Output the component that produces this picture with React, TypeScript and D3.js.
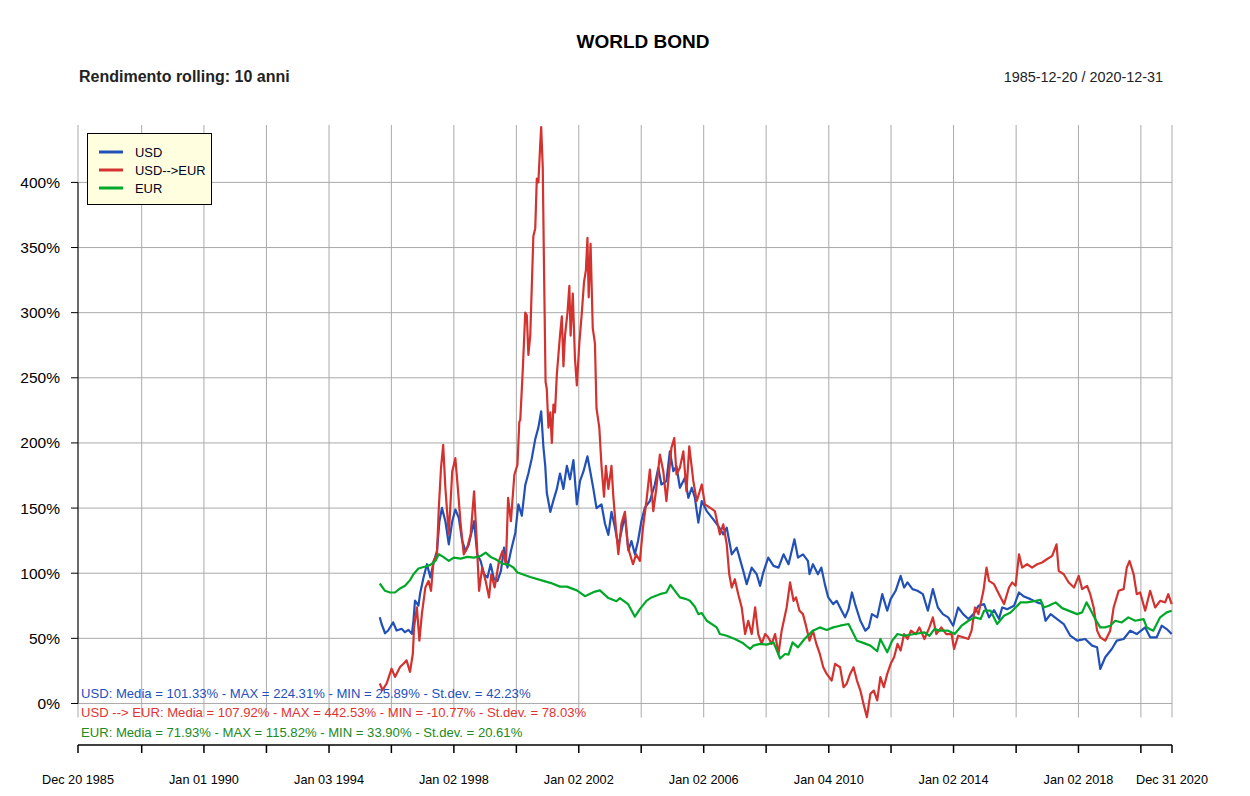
import React from "react";
import * as d3 from "d3";

// ---------- data (decimal year, % rolling 10y return) ----------
const usd: [number, number][] = [
  [1995.63,66.2],[1995.69,61],[1995.80,53.9],[1995.90,56.0],[1996.06,62.3],[1996.17,56.0],[1996.33,57.3],[1996.44,54.7],[1996.55,56.5],[1996.66,53.4],[1996.71,63.6],[1996.76,78.9],[1996.87,75.1],[1996.92,84.0],[1997.03,96.7],[1997.14,106.9],[1997.25,96.7],[1997.35,108.1],[1997.46,117.0],[1997.54,139.9],[1997.62,150.1],[1997.73,139.9],[1997.84,122.1],[1997.95,139.9],[1998.05,148.9],[1998.16,142.5],[1998.27,124.7],[1998.38,117.0],[1998.48,122.1],[1998.65,139.9],[1998.75,114.5],[1998.86,109.4],[1998.97,99.2],[1999.08,96.7],[1999.18,106.9],[1999.29,95.4],[1999.40,94.1],[1999.51,101.8],[1999.61,119.6],[1999.72,104.3],[1999.83,117.0],[1999.97,130.9],[2000.07,152.9],[2000.18,144.1],[2000.29,167.6],[2000.39,176.5],[2000.50,188.2],[2000.61,202.9],[2000.71,211.8],[2000.80,224.3],[2000.87,197.1],[2000.93,182.4],[2000.98,161.8],[2001.09,147.1],[2001.19,155.9],[2001.30,164.7],[2001.40,176.5],[2001.51,164.7],[2001.62,182.4],[2001.72,172.1],[2001.83,186.8],[2001.94,152.9],[2002.04,170.6],[2002.15,177.9],[2002.28,189.7],[2002.36,179.4],[2002.47,164.7],[2002.57,150.0],[2002.73,152.9],[2002.84,138.2],[2002.95,129.4],[2003.05,147.1],[2003.16,135.3],[2003.27,120.6],[2003.37,132.4],[2003.48,144.1],[2003.59,117.6],[2003.69,124.7],[2003.80,114.5],[2003.90,124.7],[2004.01,140.1],[2004.12,150.3],[2004.28,155.4],[2004.44,168.1],[2004.55,180.9],[2004.65,168.1],[2004.81,170.7],[2004.92,193.6],[2005.03,178.3],[2005.13,182.1],[2005.24,165.6],[2005.40,173.2],[2005.51,157.9],[2005.62,165.6],[2005.72,157.9],[2005.83,138.8],[2005.94,155.4],[2006.10,147.7],[2006.31,141.3],[2006.47,136.2],[2006.63,129.8],[2006.74,134.9],[2006.90,114.5],[2007.06,119.6],[2007.27,101.8],[2007.38,91.6],[2007.54,104.3],[2007.70,99.2],[2007.81,90.3],[2007.91,100.5],[2008.07,112.0],[2008.24,105.6],[2008.40,104.3],[2008.56,114.5],[2008.72,106.9],[2008.91,126.0],[2009.02,112.0],[2009.18,114.5],[2009.34,109.4],[2009.39,99.2],[2009.50,106.9],[2009.66,99.2],[2009.77,104.3],[2009.88,91.6],[2009.99,81.4],[2010.15,76.3],[2010.26,78.8],[2010.42,71.2],[2010.53,66.1],[2010.64,72.4],[2010.75,85.2],[2010.85,76.3],[2011.02,63.5],[2011.18,55.9],[2011.29,58.4],[2011.39,68.6],[2011.56,66.1],[2011.72,83.9],[2011.88,71.2],[2011.99,80.1],[2012.15,86.5],[2012.31,98.0],[2012.42,89.0],[2012.53,92.9],[2012.69,87.8],[2012.85,86.5],[2013.02,83.9],[2013.18,71.2],[2013.34,87.8],[2013.50,73.7],[2013.66,68.6],[2013.83,66.1],[2013.99,59.7],[2014.15,73.7],[2014.31,68.6],[2014.48,64.8],[2014.64,68.6],[2014.80,75.0],[2014.98,76.3],[2015.14,66.1],[2015.30,71.7],[2015.46,64.8],[2015.56,73.7],[2015.72,72.4],[2015.94,75.0],[2016.10,85.2],[2016.26,82.1],[2016.47,80.1],[2016.68,77.6],[2016.84,76.3],[2016.95,63.5],[2017.11,68.6],[2017.32,64.8],[2017.53,61.0],[2017.74,52.0],[2017.96,48.2],[2018.22,49.5],[2018.44,44.4],[2018.60,43.1],[2018.70,26.5],[2018.86,35.5],[2019.07,41.8],[2019.23,48.2],[2019.45,49.5],[2019.66,55.9],[2019.87,53.3],[2020.14,58.4],[2020.30,50.8],[2020.51,50.8],[2020.67,59.7],[2020.83,57.1],[2020.99,53.3]
];

const usdEur: [number, number][] = [
  [1995.63,15.3],[1995.72,10.2],[1995.85,15.3],[1996.01,26.7],[1996.12,20.4],[1996.28,28.0],[1996.39,30.5],[1996.49,33.1],[1996.60,24.2],[1996.69,38.2],[1996.73,58.5],[1996.82,73.8],[1996.90,48.3],[1996.98,68.7],[1997.09,89.1],[1997.19,94.1],[1997.27,86.5],[1997.35,109.4],[1997.46,114.5],[1997.52,150.1],[1997.59,180.7],[1997.66,198.5],[1997.73,165.4],[1997.84,129.8],[1997.95,178.1],[1998.05,188.3],[1998.13,165.4],[1998.22,137.4],[1998.32,114.5],[1998.43,119.6],[1998.54,129.8],[1998.65,162.8],[1998.73,127.2],[1998.81,86.5],[1998.91,104.3],[1999.02,94.1],[1999.13,81.4],[1999.20,99.2],[1999.31,89.1],[1999.45,109.4],[1999.56,117.0],[1999.67,106.9],[1999.74,157.8],[1999.83,139.9],[1999.94,175.6],[2000.04,183.2],[2000.10,216.3],[2000.13,217.6],[2000.21,255.9],[2000.29,300.0],[2000.34,298],[2000.39,267.6],[2000.45,282.4],[2000.50,320.6],[2000.55,358.8],[2000.61,364.7],[2000.66,402.9],[2000.71,400.0],[2000.77,429.4],[2000.80,442.5],[2000.85,411.8],[2000.89,335.3],[2000.94,247.1],[2000.98,241.2],[2001.03,211.8],[2001.09,223.5],[2001.14,200.0],[2001.19,229.4],[2001.24,223.5],[2001.30,252.9],[2001.40,282.4],[2001.46,297.1],[2001.51,258.8],[2001.56,282.4],[2001.64,300],[2001.70,320.6],[2001.74,282.4],[2001.81,314.7],[2001.88,264.7],[2001.94,244.1],[2002.02,276.5],[2002.10,300],[2002.17,323.5],[2002.23,332.4],[2002.28,357.4],[2002.32,311.8],[2002.38,352.9],[2002.45,288.2],[2002.52,276.5],[2002.57,226.5],[2002.66,211.8],[2002.73,182.4],[2002.81,158.8],[2002.87,182.4],[2002.95,164.7],[2003.05,182.4],[2003.11,158.8],[2003.19,135.3],[2003.27,114.7],[2003.37,138.2],[2003.48,147.1],[2003.58,119.6],[2003.74,106.9],[2003.84,114.5],[2003.96,109.4],[2004.06,134.9],[2004.17,155.4],[2004.28,179.6],[2004.39,147.7],[2004.49,165.6],[2004.60,191.1],[2004.71,178.3],[2004.81,155.4],[2004.97,196.2],[2005.06,203.8],[2005.13,175.8],[2005.24,180.9],[2005.35,193.6],[2005.45,163.0],[2005.54,197.4],[2005.67,170.7],[2005.78,155.4],[2005.94,168.1],[2006.04,152.8],[2006.20,150.3],[2006.36,147.7],[2006.52,129.8],[2006.63,137.5],[2006.74,122.2],[2006.82,99.2],[2006.90,89.0],[2007.00,95.4],[2007.11,83.9],[2007.22,73.7],[2007.33,53.3],[2007.43,63.5],[2007.54,53.3],[2007.65,73.7],[2007.75,53.3],[2007.86,45.7],[2007.97,53.3],[2008.07,50.8],[2008.18,45.7],[2008.29,53.3],[2008.40,38.0],[2008.50,55.9],[2008.66,73.7],[2008.77,92.9],[2008.88,78.8],[2008.96,81.4],[2009.07,71.2],[2009.18,68.6],[2009.29,58.4],[2009.39,48.2],[2009.50,55.9],[2009.61,45.7],[2009.72,38.0],[2009.83,27.8],[2009.94,22.7],[2010.10,17.6],[2010.21,30.4],[2010.37,27.8],[2010.48,12.5],[2010.58,15.1],[2010.69,22.7],[2010.80,27.8],[2010.91,17.6],[2011.02,9.9],[2011.12,-0.3],[2011.23,-10.5],[2011.34,7.4],[2011.45,9.9],[2011.56,2.3],[2011.66,20.2],[2011.77,12.5],[2011.88,22.7],[2011.99,30.4],[2012.10,35.5],[2012.21,45.7],[2012.31,40.6],[2012.42,53.3],[2012.53,49.5],[2012.64,55.9],[2012.80,53.3],[2012.91,58.4],[2013.07,49.5],[2013.23,58.4],[2013.34,66.1],[2013.45,53.3],[2013.61,58.4],[2013.77,53.3],[2013.94,53.3],[2014.02,41.8],[2014.15,52.0],[2014.31,50.8],[2014.48,49.5],[2014.58,55.9],[2014.69,73.7],[2014.80,68.6],[2014.96,86.5],[2015.06,104.3],[2015.14,94.1],[2015.30,91.6],[2015.46,83.9],[2015.62,76.3],[2015.78,89.0],[2015.88,92.9],[2015.99,90.3],[2016.10,114.5],[2016.20,104.3],[2016.36,106.9],[2016.52,104.3],[2016.68,106.9],[2016.84,108.2],[2016.99,110.7],[2017.16,113.3],[2017.30,122.2],[2017.37,101.8],[2017.53,99.2],[2017.69,92.9],[2017.86,89.0],[2018.01,98.0],[2018.12,87.8],[2018.28,90.3],[2018.38,83.9],[2018.49,73.7],[2018.60,55.9],[2018.70,50.8],[2018.86,48.2],[2019.02,55.9],[2019.13,73.7],[2019.29,86.5],[2019.45,87.8],[2019.55,104.3],[2019.64,109.4],[2019.77,99.2],[2019.87,83.9],[2019.98,85.2],[2020.14,71.2],[2020.30,86.5],[2020.46,73.7],[2020.62,78.8],[2020.78,77.6],[2020.88,83.9],[2020.99,76.3]
];

const eur: [number, number][] = [
  [1995.63,92.1],[1995.80,86.5],[1995.96,85.2],[1996.12,85.2],[1996.28,88.3],[1996.44,90.3],[1996.60,94.7],[1996.71,99.2],[1996.87,103.6],[1997.09,105.1],[1997.25,106.4],[1997.41,109.4],[1997.52,114.5],[1997.66,112.5],[1997.84,109.4],[1998.0,112.0],[1998.22,111.2],[1998.43,112.5],[1998.65,112.0],[1998.86,113.2],[1999.02,115.8],[1999.18,112.5],[1999.34,110.7],[1999.56,107.4],[1999.77,106.4],[1999.91,104.4],[2000.04,100.5],[2000.45,97.1],[2000.87,94.1],[2001.09,92.6],[2001.40,89.7],[2001.62,89.7],[2001.94,86.8],[2002.20,82.4],[2002.52,85.9],[2002.68,86.8],[2002.95,80.9],[2003.21,78.5],[2003.32,80.9],[2003.58,76.3],[2003.80,66.6],[2003.96,72.4],[2004.17,78.8],[2004.33,81.4],[2004.60,83.9],[2004.81,85.2],[2004.94,91.1],[2005.08,86.5],[2005.24,81.4],[2005.45,80.1],[2005.56,78.8],[2005.72,74.2],[2005.83,68.6],[2005.94,69.4],[2006.10,63.5],[2006.42,58.4],[2006.52,53.3],[2006.74,52.0],[2007.0,49.5],[2007.27,46.2],[2007.49,41.8],[2007.59,44.4],[2007.81,45.7],[2008.02,45.2],[2008.24,46.9],[2008.45,34.5],[2008.61,38.0],[2008.72,37.5],[2008.85,46.9],[2009.02,43.1],[2009.23,49.5],[2009.50,55.9],[2009.72,58.4],[2009.94,56.4],[2010.15,58.4],[2010.37,59.7],[2010.64,61.0],[2010.75,55.9],[2010.91,48.2],[2011.07,46.9],[2011.34,44.4],[2011.56,40.1],[2011.66,49.5],[2011.88,39.3],[2012.04,48.2],[2012.21,53.3],[2012.42,52.0],[2012.75,53.3],[2013.07,54.6],[2013.23,52.0],[2013.39,57.1],[2013.56,55.9],[2013.83,55.9],[2014.04,53.3],[2014.26,59.7],[2014.48,63.5],[2014.69,66.1],[2014.87,64.8],[2014.98,71.2],[2015.19,71.2],[2015.40,61.0],[2015.62,67.3],[2015.83,69.9],[2015.99,73.7],[2016.15,77.6],[2016.36,77.6],[2016.63,78.8],[2016.79,79.6],[2016.89,73.7],[2017.05,75.0],[2017.27,77.6],[2017.48,73.2],[2017.74,70.7],[2017.96,68.6],[2018.12,69.9],[2018.26,77.6],[2018.38,72.4],[2018.54,64.8],[2018.70,58.4],[2018.86,58.4],[2019.02,59.7],[2019.18,63.5],[2019.39,62.2],[2019.60,66.1],[2019.82,63.5],[2020.09,64.8],[2020.19,58.4],[2020.40,55.9],[2020.62,66.1],[2020.83,69.9],[2020.99,71.2]
];

const seriesNames = ["USD", "USD-->EUR", "EUR"];
const seriesColors = ["#2150b8", "#d3322f", "#00a82a"];
const statsLines = [
  "USD: Media = 101.33% - MAX = 224.31% - MIN = 25.89% - St.dev. = 42.23%",
  "USD --> EUR: Media  = 107.92% - MAX = 442.53% - MIN = -10.77% - St.dev. = 78.03%",
  "EUR: Media = 71.93% - MAX = 115.82% - MIN = 33.90% - St.dev. = 20.61%",
];
const statsColors = ["#2150c0", "#e03434", "#218a21"];

const tickDates = [
  "1985-12-20","1988-01-04","1990-01-01","1992-01-02","1994-01-03","1996-01-02","1998-01-02",
  "2000-01-03","2002-01-02","2004-01-02","2006-01-02","2008-01-02","2010-01-04","2012-01-02",
  "2014-01-02","2016-01-04","2018-01-02","2020-01-02","2020-12-31",
];
const tickLabels = [
  "Dec 20 1985","","Jan 01 1990","","Jan 03 1994","","Jan 02 1998","","Jan 02 2002","",
  "Jan 02 2006","","Jan 04 2010","","Jan 02 2014","","Jan 02 2018","","Dec 31 2020",
];
const yTicks = [0, 50, 100, 150, 200, 250, 300, 350, 400];

const parseDate = (s: string) => {
  const [y, m, d] = s.split("-").map(Number);
  return new Date(y, m - 1, d);
};
const fromDecimal = (t: number) => {
  const y = Math.floor(t);
  const start = new Date(y, 0, 1).getTime();
  return new Date(start + (t - y) * 365.25 * 86400000);
};

export default function App() {
  const W = 1250, H = 796;
  const L = 78, R = 1172, T = 125, B = 717.5;
  const x = d3.scaleTime().domain([parseDate("1985-12-20"), parseDate("2020-12-31")]).range([L, R]);
  const y = d3.scaleLinear().domain([-10.77, 442.53]).range([717.5, 127]);
  const line = d3.line<[number, number]>().x(d => x(fromDecimal(d[0]))).y(d => y(d[1]));
  const font = "'Liberation Sans', Arial, sans-serif";
  const axisY = 745;
  const all = [usd, usdEur, eur];

  return (
    <svg width={W} height={H} style={{ position: "absolute", left: 0, top: 0, background: "#fff" }} fontFamily={font}>
      <rect x={0} y={0} width={W} height={H} fill="#fff" />
      {/* grid */}
      {tickDates.map((d, i) => (
        <line key={"vg" + i} x1={x(parseDate(d))} x2={x(parseDate(d))} y1={T} y2={B} stroke="#aaaaaa" strokeWidth={1} />
      ))}
      {yTicks.map(v => (
        <line key={"hg" + v} x1={L} x2={R} y1={y(v)} y2={y(v)} stroke="#aaaaaa" strokeWidth={1} />
      ))}
      {/* y axis */}
      <line x1={L} x2={L} y1={y(400)} y2={y(0)} stroke="#000" strokeWidth={1} />
      {yTicks.map(v => (
        <g key={"yt" + v}>
          <line x1={L - 7} x2={L} y1={y(v)} y2={y(v)} stroke="#000" />
          <text x={60} y={y(v) + 5.5} textAnchor="end" fontSize={15.5} fill="#000">{v + "%"}</text>
        </g>
      ))}
      {/* x axis */}
      <line x1={L} x2={R} y1={axisY} y2={axisY} stroke="#000" strokeWidth={1.5} />
      {tickDates.map((d, i) => (
        <g key={"xt" + i}>
          <line x1={x(parseDate(d))} x2={x(parseDate(d))} y1={axisY} y2={axisY + 8} stroke="#000" strokeWidth={1.5} />
          {tickLabels[i] && (
            <text x={x(parseDate(d))} y={783.5} textAnchor="middle" fontSize={12.7} fill="#000">{tickLabels[i]}</text>
          )}
        </g>
      ))}
      {/* series */}
      {all.map((s, i) => (
        <path key={"s" + i} d={line(s) || ""} fill="none" stroke={seriesColors[i]} strokeWidth={2.2} strokeLinejoin="round" />
      ))}
      {/* stats */}
      {statsLines.map((s, i) => (
        <text key={"st" + i} x={81} y={697.5 + i * 19.5} fontSize={13.1} fill={statsColors[i]}>{s}</text>
      ))}
      {/* legend */}
      <rect x={87.5} y={133.5} width={124} height={71} fill="#ffffe0" stroke="#000" strokeWidth={1} />
      {seriesNames.map((n, i) => (
        <g key={"lg" + i}>
          <line x1={99} x2={123} y1={152 + i * 18} y2={152 + i * 18} stroke={seriesColors[i]} strokeWidth={3} />
          <text x={135} y={156.5 + i * 18} fontSize={12.9} fill="#000022">{n}</text>
        </g>
      ))}
      {/* titles */}
      <text x={643} y={47.5} textAnchor="middle" fontSize={19} fontWeight="bold" fill="#000">WORLD BOND</text>
      <text x={79} y={82} fontSize={16} fontWeight="bold" fill="#222">Rendimento rolling: 10 anni</text>
      <text x={1163} y={81.5} textAnchor="end" fontSize={14.4} fill="#222">1985-12-20 / 2020-12-31</text>
    </svg>
  );
}
